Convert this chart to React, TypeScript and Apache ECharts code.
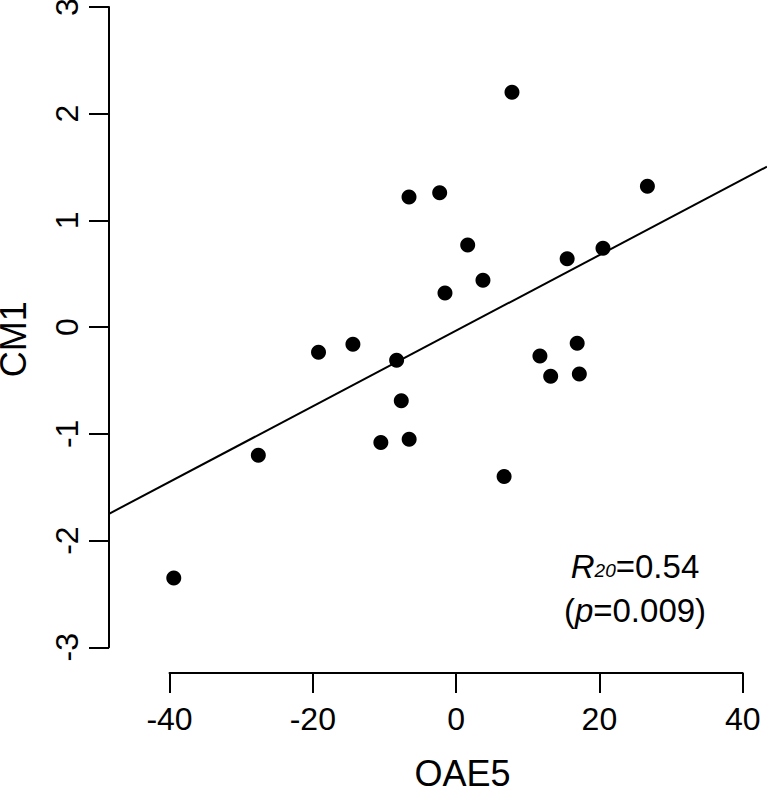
import React, { useEffect, useRef } from "react";
import * as echarts from "echarts";

// Observed points (OAE5, CM1)
const oae5 = [-39.4, -27.6, -19.2, -14.4, -8.3, -7.65, -10.5, -6.55, -6.57, -2.29, 1.62, 3.75, -1.55, 7.8, 26.7, 20.5, 15.5, 16.9, 11.7, 13.2, 17.2, 6.7];
const cm1 = [-2.35, -1.2, -0.235, -0.16, -0.31, -0.69, -1.08, -1.05, 1.22, 1.26, 0.77, 0.44, 0.32, 2.2, 1.32, 0.74, 0.64, -0.15, -0.27, -0.46, -0.44, -1.4];

// Fitted regression line endpoints
const fitX = [-48.44, 43.39];
const fitY = [-1.749, 1.504];

const xTicks = { min: -40, max: 40, interval: 20 };
const yTicks = { min: -3, max: 3, interval: 1 };

const FONT = "'Liberation Sans', Arial, Helvetica, sans-serif";

export default function App() {
  const ref = useRef<HTMLDivElement>(null);
  useEffect(() => {
    if (!ref.current) return;
    const chart = echarts.init(ref.current, undefined, { renderer: "svg" });
    const points = oae5.map((x, i) => [x, cm1[i]]);
    const fit = fitX.map((x, i) => [x, fitY[i]]);
    const axisLineStyle = { color: "#000", width: 2 };
    chart.setOption({
      animation: false,
      backgroundColor: "#fff",
      textStyle: { fontFamily: FONT },
      grid: [
        { left: 109, right: 0, top: 0, bottom: 115, outerBoundsMode: "none", containLabel: false },
        { left: 169.5, right: 24.3, top: 0, bottom: 115, outerBoundsMode: "none", containLabel: false },
        { left: 109, top: 7, bottom: 140.7, width: 10, outerBoundsMode: "none", containLabel: false },
      ],
      xAxis: [
        { gridIndex: 0, type: "value", min: -48.44, max: 43.39, show: false },
        {
          gridIndex: 1,
          type: "value",
          min: xTicks.min,
          max: xTicks.max,
          interval: xTicks.interval,
          axisLine: { show: true, onZero: false, lineStyle: axisLineStyle },
          axisTick: { show: true, length: 20, lineStyle: axisLineStyle },
          axisLabel: { fontSize: 32, color: "#000", margin: 30, fontFamily: FONT },
          splitLine: { show: false },
          name: "OAE5",
          nameLocation: "middle",
          nameGap: 82,
          nameTextStyle: { fontSize: 36, color: "#000", fontFamily: FONT, padding: [0, 0, 0, 13] },
        },
        { gridIndex: 2, type: "value", min: 0, max: 1, show: false },
      ],
      yAxis: [
        { gridIndex: 0, type: "value", min: -3.2406, max: 3.0655, show: false },
        { gridIndex: 1, type: "value", min: 0, max: 1, show: false },
        {
          gridIndex: 2,
          type: "value",
          min: yTicks.min,
          max: yTicks.max,
          interval: yTicks.interval,
          axisLine: { show: true, onZero: false, lineStyle: axisLineStyle },
          axisTick: { show: true, length: 20, lineStyle: axisLineStyle },
          axisLabel: { fontSize: 32, color: "#000", margin: 26, rotate: 90, fontFamily: FONT },
          splitLine: { show: false },
          name: "CM1",
          nameLocation: "middle",
          nameGap: 78,
          nameTextStyle: { fontSize: 36, color: "#000", fontFamily: FONT, padding: [0, 24, 0, 0] },
        },
      ],
      series: [
        {
          type: "line",
          xAxisIndex: 0,
          yAxisIndex: 0,
          data: fit,
          symbol: "none",
          lineStyle: { color: "#000", width: 2 },
          silent: true,
        },
        {
          type: "scatter",
          xAxisIndex: 0,
          yAxisIndex: 0,
          data: points,
          symbol: "circle",
          symbolSize: 15,
          itemStyle: { color: "#000", opacity: 1 },
        },
      ],
      graphic: [
        {
          type: "text",
          x: 635,
          y: 544,
          style: {
            text: "{i|R}{s|20}{n|=0.54}\n{n|(}{i|p}{n|=0.009)}",
            align: "center",
            fill: "#000",
            rich: {
              i: { fontSize: 33, fontStyle: "italic", fontFamily: FONT, lineHeight: 44, fill: "#000" },
              s: { fontSize: 19, fontStyle: "italic", fontFamily: FONT, lineHeight: 19, verticalAlign: "bottom", padding: [0, 0, 8, 0], fill: "#000" },
              n: { fontSize: 33, fontFamily: FONT, lineHeight: 44, fill: "#000" },
            },
          },
        },
      ],
    });
    return () => chart.dispose();
  }, []);
  return (
    <div
      ref={ref}
      style={{ position: "fixed", left: 0, top: 0, width: 767, height: 788, background: "#fff" }}
    />
  );
}
